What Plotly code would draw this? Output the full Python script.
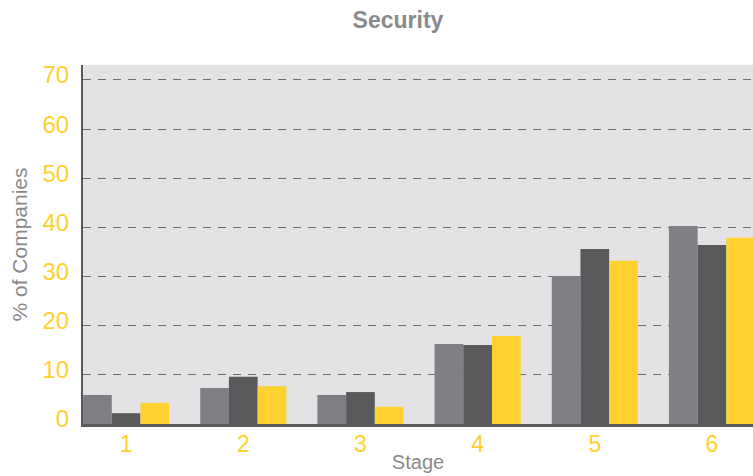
import plotly.graph_objects as go

# Share of companies (%) at each stage, three survey groups
stages = [1, 2, 3, 4, 5, 6]
stage_labels = ["1", "2", "3", "4", "5", "6"]
group_a = [5.9, 7.3, 5.9, 16.3, 30.1, 40.3]
group_b = [2.2, 9.6, 6.5, 16.1, 35.6, 36.4]
group_c = [4.3, 7.7, 3.5, 17.9, 33.2, 37.9]
y_ticks = [0, 10, 20, 30, 40, 50, 60, 70]

GRAY = "#807f83"
DARK = "#58595b"
YELLOW = "#fdd130"
LABEL_GRAY = "#8a8a8c"
FONT = "Liberation Sans, Arial, sans-serif"

fig = go.Figure()
for vals, col in [(group_a, GRAY), (group_b, DARK), (group_c, YELLOW)]:
    fig.add_trace(go.Bar(x=stages, y=vals, marker=dict(color=col, line=dict(width=0)),
                         showlegend=False))

fig.update_layout(
    width=753, height=476,
    margin=dict(l=83, r=0, t=65, b=52),
    paper_bgcolor="white",
    plot_bgcolor="#e4e2e4",
    barmode="group",
    bargap=0.265,
    bargroupgap=0,
    title=dict(text="<b>Security</b>", x=398 / 753, xref="container", xanchor="center",
               y=1 - 20 / 476, yref="container", yanchor="middle",
               font=dict(family=FONT, size=23, color=LABEL_GRAY)),
    font=dict(family=FONT),
)

fig.update_xaxes(
    range=[0.632, 6.35],
    tickvals=stages, ticktext=stage_labels,
    tickfont=dict(size=23, color=YELLOW),
    ticks="", ticklabelstandoff=-3,
    showline=True, linecolor="#5a5a5c", linewidth=3,
    showgrid=False, zeroline=False, automargin=False,
    title=dict(text="Stage", font=dict(size=20, color=LABEL_GRAY), standoff=0),
)

fig.update_yaxes(
    range=[0, 73.05],
    tickvals=y_ticks,
    tickfont=dict(size=24, color=YELLOW),
    ticks="outside", ticklen=7, tickcolor="rgba(0,0,0,0)",
    ticklabelshift=-5,
    showline=True, linecolor="#5a5a5c", linewidth=2,
    showgrid=True, gridcolor="#6e6e70", gridwidth=1, griddash="8px,7px",
    zeroline=False, automargin=False,
    title=dict(text="% of Companies", font=dict(size=21, color=LABEL_GRAY), standoff=9),
)

fig.write_html("out.html")
